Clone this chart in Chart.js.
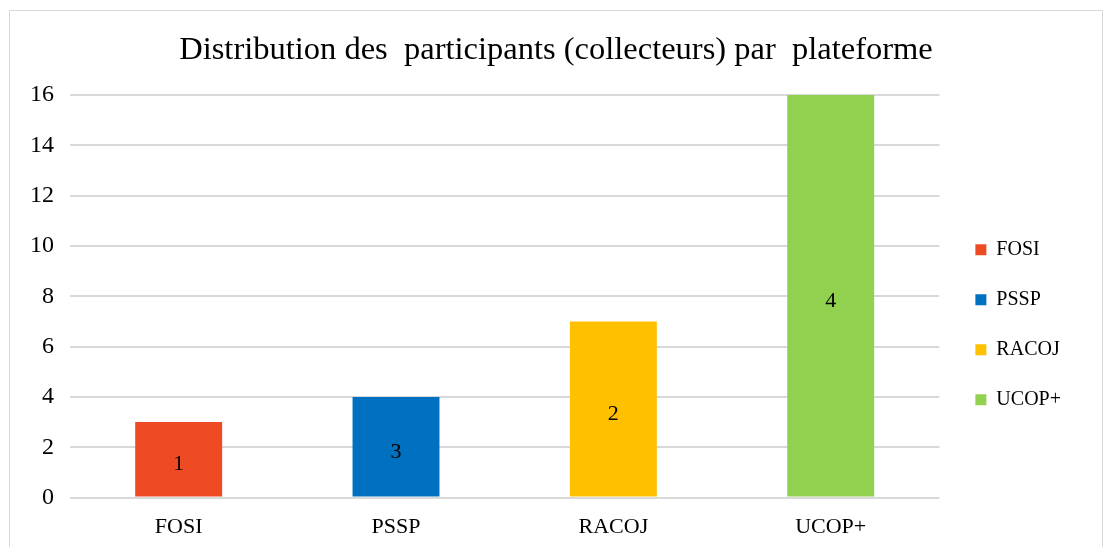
<!DOCTYPE html>
<html>
<head>
<meta charset="utf-8">
<script src="https://cdn.jsdelivr.net/npm/chart.js@4/dist/chart.umd.min.js"></script>
<style>
  body { margin: 0; background: #fff; }
  #frame {
    position: absolute; left: 9px; top: 10px;
    width: 1092px; height: 545px;
    border: 1px solid #d9d9d9; background: #fff;
  }
  #frame canvas { display: block; }
</style>
</head>
<body>
<div id="frame"><canvas id="chart" width="1092" height="545"></canvas></div>
<script>
const categories = ["FOSI", "PSSP", "RACOJ", "UCOP+"];
const values = [3, 4, 7, 16];
const barLabels = ["1", "3", "2", "4"];
const colors = ["#EE4B24", "#0070C0", "#FFC000", "#92D050"];
const yTicks = [0, 2, 4, 6, 8, 10, 12, 14, 16];

const serif = "'Liberation Serif', 'Times New Roman', serif";

// writes the number inside each bar
const insideLabels = {
  id: "insideLabels",
  afterDatasetsDraw(chart) {
    const ctx = chart.ctx;
    const meta = chart.getDatasetMeta(0);
    ctx.save();
    ctx.font = "22px " + serif;
    ctx.fillStyle = "#000";
    ctx.textAlign = "center";
    ctx.textBaseline = "middle";
    meta.data.forEach((bar, i) => {
      ctx.fillText(barLabels[i], bar.x, (bar.y + bar.base) / 2 + 5);
    });
    ctx.restore();
  }
};

// title centred on the whole canvas, legend nudged a bit to the right
const layoutTweaks = {
  id: "layoutTweaks",
  afterLayout(chart) {
    if (chart.titleBlock) {
      chart.titleBlock.left = 0;
      chart.titleBlock.right = chart.width;
    }
    if (chart.legend) {
      chart.legend.left += 6;
      chart.legend.right += 6;
    }
  }
};

new Chart(document.getElementById("chart"), {
  type: "bar",
  data: {
    labels: categories,
    datasets: [{
      label: "Participants",
      data: values,
      backgroundColor: colors,
      barPercentage: 0.4,
      categoryPercentage: 1
    }]
  },
  options: {
    responsive: false,
    animation: false,
    layout: { padding: { left: 4, right: 37, top: 0, bottom: 0 } },
    plugins: {
      title: {
        display: true,
        text: "Distribution des  participants (collecteurs) par  plateforme",
        color: "#000",
        font: { family: serif, size: 32.5, weight: "normal" },
        padding: { top: 20, bottom: 25 }
      },
      legend: {
        position: "right",
        title: { display: true, text: "", padding: { top: 0, bottom: 68 } },
        labels: {
          color: "#000",
          font: { family: serif, size: 20 },
          boxWidth: 11,
          boxHeight: 11,
          padding: 30,
          generateLabels: () => categories.map((c, i) => ({
            text: c,
            fillStyle: colors[i],
            strokeStyle: colors[i],
            fontColor: "#000",
            lineWidth: 0,
            index: i
          }))
        }
      },
      tooltip: { enabled: false }
    },
    scales: {
      x: {
        grid: { display: false, drawTicks: false },
        border: { display: false },
        ticks: { color: "#000", font: { family: serif, size: 22 }, padding: 16 }
      },
      y: {
        min: 0,
        max: 16,
        afterBuildTicks: (axis) => { axis.ticks = yTicks.map(v => ({ value: v })); },
        grid: { color: "#d9d9d9", lineWidth: 2, drawTicks: false },
        border: { display: false },
        ticks: { color: "#000", font: { family: serif, size: 24 }, padding: 16 }
      }
    }
  },
  plugins: [insideLabels, layoutTweaks]
});
</script>
</body>
</html>
